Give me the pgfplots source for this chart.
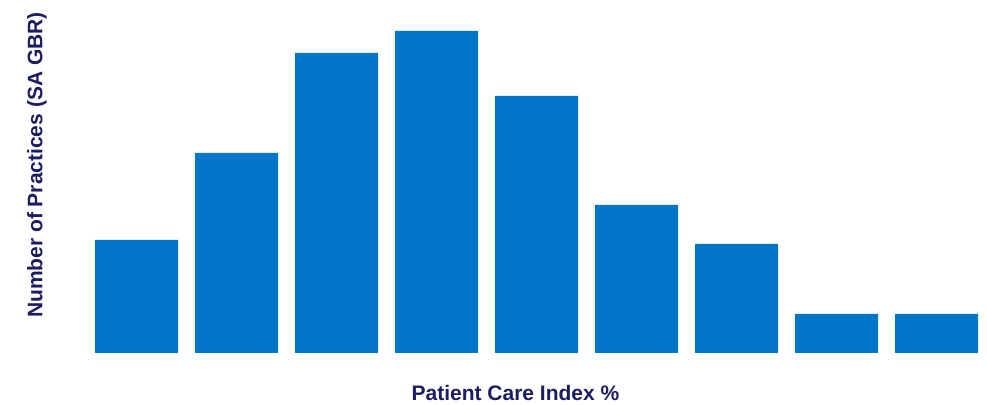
\documentclass[border=0pt]{standalone}
\usepackage{pgfplots}
\pgfplotsset{compat=1.18}
\usepackage{fontspec}
\setmainfont{Liberation Sans}
\definecolor{barblue}{RGB}{2,118,201}
\definecolor{labelnavy}{RGB}{28,28,99}
\begin{document}
\begin{tikzpicture}[x=1pt,y=1pt]
% fixed canvas
\path (0,0) rectangle (987,404);
\begin{axis}[
  at={(86.5pt,51pt)}, anchor=south west,
  scale only axis, width=900pt, height=322pt,
  xmin=-0.5, xmax=8.5, ymin=0, ymax=322,
  axis lines=none, ticks=none, clip=false,
  ybar, bar width=83pt,
]
\addplot[fill=barblue, draw=none] coordinates {
  (0,113) (1,200) (2,300) (3,322) (4,257) (5,148) (6,109) (7,39) (8,39)
};
\end{axis}
\node[text=labelnavy, font=\bfseries\fontsize{21}{21}\selectfont, anchor=base]
  at (515.5,4) {Patient Care Index \%};
\node[text=labelnavy, font=\bfseries\fontsize{21}{21}\selectfont, rotate=90, anchor=center]
  at (37,239) {Number of Practices (SA GBR)};
\end{tikzpicture}
\end{document}
